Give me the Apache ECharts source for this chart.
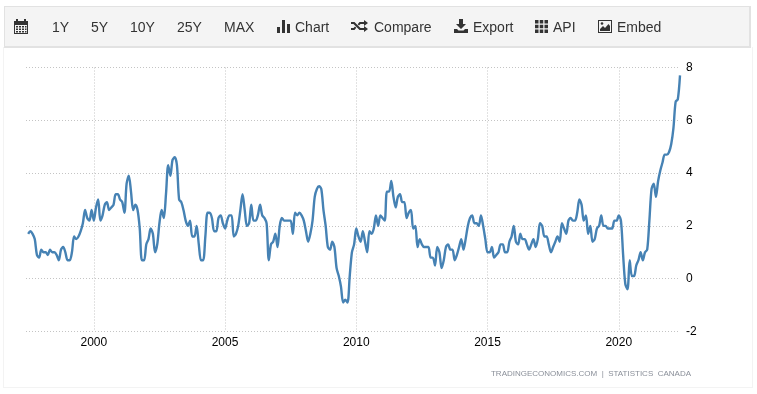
<!DOCTYPE html>
<html>
<head>
<meta charset="utf-8">
<title>Canada inflation rate</title>
<script src="https://cdn.jsdelivr.net/npm/echarts@6/dist/echarts.min.js"></script>
<style>
    html, body { margin: 0; padding: 0; background: #fff; }
    body { width: 757px; height: 394px; position: relative; overflow: hidden; font-family: "Liberation Sans", Arial, sans-serif; }
    #frame { position: absolute; left: 3px; top: 47px; width: 748px; height: 340px; border: 1px solid #f3f3f3; border-top: 0; }
    #toolbar { position: absolute; left: 4px; top: 6px; width: 744px; height: 39px; background: #f4f4f4; border: 2px solid #e3e3e3; border-width: 1px 2px 2px 1px; border-color: #e2e2e2; }
    #chart { position: absolute; left: 0; top: 0; width: 757px; height: 394px; }
    .tb { position: absolute; top: 19px; font-size: 14px; line-height: 16px; color: #333; white-space: nowrap; }
    .ic { position: absolute; fill: #333; }
</style>
</head>
<body>
<div id="frame"></div>
<div id="toolbar"></div>
<div id="chart"></div>

<svg class="ic" style="left:14px;top:19px" width="14" height="15" viewBox="0 0 14 15"><path d="M0 2h2V0h2v2h6V0h2v2h2v13H0zM1 6v8h12V6z"/><path d="M2 7h2v1.5H2zM5 7h2v1.5H5zM8 7h2v1.5H8zM11 7h1.5v1.5H11zM2 9.5h2V11H2zM5 9.5h2V11H5zM8 9.5h2V11H8zM11 9.5h1.5V11H11zM2 12h2v1.5H2zM5 12h2v1.5H5zM8 12h2v1.5H8zM11 12h1.5v1.5H11z"/></svg>
<span class="tb" style="left:52px">1Y</span>
<span class="tb" style="left:91px">5Y</span>
<span class="tb" style="left:130px">10Y</span>
<span class="tb" style="left:177px">25Y</span>
<span class="tb" style="left:224px">MAX</span>
<svg class="ic" style="left:277px;top:20px" width="13" height="13" viewBox="0 0 13 13"><path d="M0 7h3v6H0zM5 0h3v13H5zM10 4h3v9h-3z"/></svg>
<span class="tb" style="left:295px">Chart</span>
<svg class="ic" style="left:351px;top:20px" width="17" height="12" viewBox="0 0 17 12"><path d="M0 2h3.500l6 6H13V6l4 3-4 3v-2H8.500l-6-6H0zM0 8h2.500l1.500-1.500 1.300 1.300L3.500 10H0zM8.500 2H13V0l4 3-4 3V4H9.500L8 5.500 6.700 4.200z"/></svg>
<span class="tb" style="left:374px">Compare</span>
<svg class="ic" style="left:454px;top:19px" width="14" height="14" viewBox="0 0 14 14"><path d="M5 0h4v5h3L7 10 2 5h3zM0 10h3l1.500 1.500h5L11 10h3v4H0z"/></svg>
<span class="tb" style="left:473px">Export</span>
<svg class="ic" style="left:535px;top:20px" width="13" height="13" viewBox="0 0 13 13"><path d="M0 0h3.500v3.500H0zM4.750 0h3.500v3.500h-3.500zM9.500 0H13v3.500H9.500zM0 4.750h3.500v3.500H0zM4.750 4.750h3.500v3.500h-3.500zM9.500 4.750H13v3.500H9.500zM0 9.500h3.500V13H0zM4.750 9.500h3.500V13h-3.500zM9.500 9.500H13V13H9.500z"/></svg>
<span class="tb" style="left:553px">API</span>
<svg class="ic" style="left:598px;top:20px" width="14" height="13" viewBox="0 0 14 13"><path fill-rule="evenodd" d="M0 0h14v13H0zM1 1v11h12V1z"/><path d="M2 11V9l3-3 2 2 3.500-4L12 6v5z"/><circle cx="4" cy="3.500" r="1.300"/></svg>
<span class="tb" style="left:617px">Embed</span>

<script>
    var startYear = 1997;
    var startMonth = 6;
    var rate1997 = [null, 1.7, 1.8, 1.7, 1.5, 0.9, 0.8];
    var rate1998 = [1.1, 1.0, 1.0, 0.9, 1.1, 1.0, 1.0, 0.9, 0.7, 1.1, 1.2, 1.0];
    var rate1999 = [0.7, 0.7, 1.0, 1.6, 1.5, 1.6, 1.8, 2.1, 2.6, 2.3, 2.2, 2.6];
    var rate2000 = [2.2, 2.7, 3.0, 2.2, 2.4, 2.8, 2.9, 2.6, 2.7, 2.8, 3.2, 3.2];
    var rate2001 = [3.0, 2.9, 2.5, 3.6, 3.9, 3.3, 2.6, 2.8, 2.6, 1.9, 0.7, 0.7];
    var rate2002 = [1.3, 1.5, 1.9, 1.7, 1.0, 1.3, 2.1, 2.6, 2.3, 3.2, 4.3, 3.9];
    var rate2003 = [4.5, 4.6, 4.3, 3.0, 2.9, 2.6, 2.2, 2.0, 2.2, 1.6, 1.6, 2.0];
    var rate2004 = [1.3, 0.7, 0.7, 1.6, 2.5, 2.5, 2.3, 1.8, 1.8, 2.3, 2.4, 2.1];
    var rate2005 = [1.9, 2.2, 2.4, 2.4, 1.6, 1.7, 2.0, 2.6, 3.2, 2.6, 2.0, 2.1];
    var rate2006 = [2.8, 2.2, 2.2, 2.4, 2.8, 2.4, 2.3, 2.1, 0.7, 1.3, 1.4, 1.7];
    var rate2007 = [1.2, 2.0, 2.3, 2.2, 2.2, 2.2, 2.2, 1.7, 2.5, 2.4, 2.5, 2.4];
    var rate2008 = [2.2, 1.8, 1.4, 1.7, 2.2, 3.1, 3.4, 3.5, 3.4, 2.6, 2.0, 1.2];
    var rate2009 = [1.1, 1.4, 1.2, 0.4, 0.1, -0.3, -0.9, -0.8, -0.9, 0.1, 1.0, 1.3];
    var rate2010 = [1.9, 1.6, 1.4, 1.8, 1.4, 1.0, 1.8, 1.7, 1.9, 2.4, 2.0, 2.4];
    var rate2011 = [2.3, 2.2, 3.3, 3.3, 3.7, 3.1, 2.7, 3.1, 3.2, 2.9, 2.9, 2.3];
    var rate2012 = [2.5, 2.6, 1.9, 2.0, 1.2, 1.5, 1.3, 1.2, 1.2, 1.2, 0.8, 0.8];
    var rate2013 = [0.5, 1.2, 1.0, 0.4, 0.7, 1.2, 1.3, 1.1, 1.1, 0.7, 0.9, 1.2];
    var rate2014 = [1.5, 1.1, 1.5, 2.0, 2.3, 2.4, 2.1, 2.1, 2.0, 2.4, 2.0, 1.5];
    var rate2015 = [1.0, 1.0, 1.2, 0.8, 0.9, 1.0, 1.3, 1.3, 1.0, 1.0, 1.4, 1.6];
    var rate2016 = [2.0, 1.4, 1.3, 1.7, 1.5, 1.5, 1.3, 1.1, 1.3, 1.5, 1.2, 1.5];
    var rate2017 = [2.1, 2.0, 1.6, 1.6, 1.3, 1.0, 1.2, 1.4, 1.6, 1.4, 2.1, 1.9];
    var rate2018 = [1.7, 2.2, 2.3, 2.2, 2.2, 2.5, 3.0, 2.8, 2.2, 2.4, 1.7, 2.0];
    var rate2019 = [1.4, 1.5, 1.9, 2.0, 2.4, 2.0, 2.0, 1.9, 1.9, 1.9, 2.2, 2.2];
    var rate2020 = [2.4, 2.2, 0.9, -0.2, -0.4, 0.7, 0.1, 0.1, 0.5, 0.7, 1.0, 0.7];
    var rate2021 = [1.0, 1.1, 2.2, 3.4, 3.6, 3.1, 3.7, 4.1, 4.4, 4.7, 4.7, 4.8];
    var rate2022 = [5.1, 5.7, 6.7, 6.8, 7.7];

    var rates = [].concat(rate1997, rate1998, rate1999, rate2000, rate2001, rate2002, rate2003,
        rate2004, rate2005, rate2006, rate2007, rate2008, rate2009, rate2010, rate2011, rate2012,
        rate2013, rate2014, rate2015, rate2016, rate2017, rate2018, rate2019, rate2020, rate2021, rate2022);

    // one category per month, "yyyy-mm"
    var months = rates.map(function (v, i) {
        var m = startMonth - 1 + i;
        var mm = m % 12 + 1;
        return (startYear + Math.floor(m / 12)) + '-' + (mm < 10 ? '0' + mm : mm);
    });

    var yearTicks = ['2000-01', '2005-01', '2010-01', '2015-01', '2020-01'];
    var sourceText = 'TRADINGECONOMICS.COM  |  STATISTICS  CANADA';

    function isYearTick(index, value) {
        return yearTicks.indexOf(value) >= 0;
    }

    var chart = echarts.init(document.getElementById('chart'), null, {renderer: 'canvas'});
    chart.setOption({
        animation: false,
        title: {
            text: sourceText,
            right: 66,
            top: 370,
            textStyle: {
                color: '#8a8f99',
                fontFamily: '"Liberation Sans", Arial, sans-serif',
                fontWeight: 'normal',
                fontSize: 8
            },
            padding: 0
        },
        grid: {left: 26, right: 77, top: 67.5, bottom: 62.5},
        xAxis: {
            type: 'category',
            data: months,
            boundaryGap: false,
            axisLine: {show: false},
            axisTick: {show: false},
            axisLabel: {
                interval: isYearTick,
                margin: 5,
                color: '#000',
                fontFamily: '"Liberation Sans", Arial, sans-serif',
                fontSize: 12,
                formatter: function (value) {
                    return value.substr(0, 4);
                }
            },
            splitLine: {
                show: true,
                interval: isYearTick,
                lineStyle: {color: '#c4c4c4', type: [1, 2], width: 1}
            }
        },
        yAxis: {
            type: 'value',
            position: 'right',
            min: -2,
            max: 8,
            interval: 2,
            axisLine: {show: false},
            axisTick: {show: false},
            axisLabel: {
                margin: 6,
                padding: [2, 0, 0, 0],
                color: '#000',
                fontFamily: '"Liberation Sans", Arial, sans-serif',
                fontSize: 12
            },
            splitLine: {
                show: true,
                lineStyle: {color: '#c4c4c4', type: [1, 2], width: 1}
            }
        },
        series: [{
            type: 'line',
            name: 'Inflation rate',
            data: rates,
            showSymbol: false,
            smooth: 0.3,
            connectNulls: false,
            lineStyle: {color: '#4682b4', width: 2.4}
        }]
    });
</script>
</body>
</html>
